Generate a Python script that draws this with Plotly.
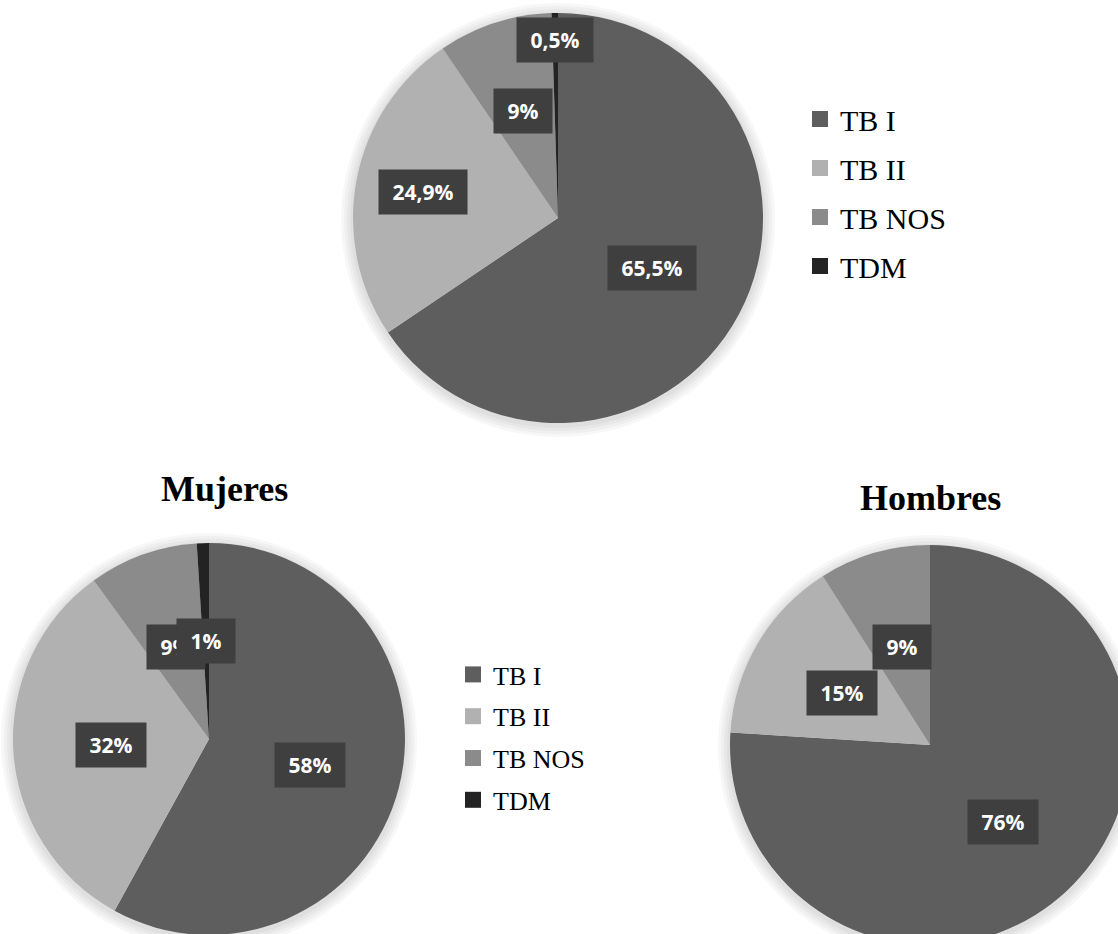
import math
import plotly.graph_objects as go

# ---- data ---------------------------------------------------------------
categories = ["TB I", "TB II", "TB NOS", "TDM"]
total_pct = [65.5, 24.9, 9, 0.5]
mujeres_pct = [58, 32, 9, 1]
hombres_pct = [76, 15, 9, 0]
titles = ["", "Mujeres", "Hombres"]

# ---- style --------------------------------------------------------------
slice_colors = ["#5e5e5e", "#b1b1b1", "#8b8b8b", "#232323"]
W, H = 1160, 975

# pie geometry in pixels: centre x, centre y, radius
geom = [(558, 218, 205), (209, 739, 196), (930, 745, 200)]
# radial position of each data label, as a fraction of the radius
label_radius = [
    [0.52, 0.67, 0.55, 0.87],
    [0.53, 0.50, 0.50, 0.50],
    [0.53, 0.51, 0.51, 0.50],
]
title_pos = [None, (224, 489), (930, 498)]

series = [total_pct, mujeres_pct, hombres_pct]


def domain(cx, cy, r):
    return dict(x=[(cx - r) / W, (cx + r) / W],
                y=[1 - (cy + r) / H, 1 - (cy - r) / H])


def fmt(v):
    s = f"{v:g}".replace(".", ",")
    return f"{s}%"


fig = go.Figure()

# soft glow behind each pie
for cx, cy, r in geom:
    for k in range(4, 0, -1):
        fig.add_trace(go.Pie(
            values=[1], labels=["_"], marker=dict(colors=["rgba(0,0,0,0.03)"]),
            textinfo="none", hoverinfo="skip", showlegend=False, sort=False,
            domain=domain(cx, cy + 2, r + 3 * k),
        ))

# the three pies
for (cx, cy, r), vals in zip(geom, series):
    fig.add_trace(go.Pie(
        values=vals, labels=categories, marker=dict(colors=slice_colors),
        sort=False, direction="clockwise", rotation=0,
        textinfo="none", showlegend=False,
        domain=domain(cx, cy, r),
    ))

# legend entries (two legends: one for the total pie, one for the pair below)
for leg in ["legend", "legend2"]:
    for i, (cat, col) in enumerate(zip(categories, slice_colors)):
        fig.add_trace(go.Scatter(
            x=[None], y=[None], mode="markers", name=cat,
            marker=dict(symbol="square", size=16, color=col),
            legend=leg, legendgroup=f"{leg}_{i}", hoverinfo="skip",
        ))

# data labels placed at each slice's mid-angle
annotations = []
for (cx, cy, r), vals, fr in zip(geom, series, label_radius):
    total = sum(vals)
    cum = 0.0
    for v, f in zip(vals, fr):
        start = cum
        cum += v
        if v <= 0:
            continue
        mid = (start + cum) / 2 / total * 2 * math.pi
        px = cx + f * r * math.sin(mid)
        py = cy - f * r * math.cos(mid)
        annotations.append(dict(
            x=px / W, y=1 - py / H, xref="paper", yref="paper",
            xanchor="center", yanchor="middle", showarrow=False,
            text="\u00a0<b>" + fmt(v) + "</b>\u00a0", borderpad=8,
            bgcolor="#3f3f3f",
            font=dict(family="Open Sans", size=21, color="white"),
        ))

for t, pos in zip(titles, title_pos):
    if pos is None:
        continue
    annotations.append(dict(
        x=pos[0] / W, y=1 - pos[1] / H, xref="paper", yref="paper",
        xanchor="center", yanchor="middle", showarrow=False,
        text=f"<b>{t}</b>",
        font=dict(family="Liberation Serif", size=36, color="black"),
    ))

fig.update_layout(
    width=W, height=H,
    margin=dict(l=0, r=0, t=0, b=0),
    paper_bgcolor="white", plot_bgcolor="white",
    xaxis=dict(visible=False), yaxis=dict(visible=False),
    annotations=annotations,
    legend=dict(x=800 / W, y=1 - 93 / H, xanchor="left", yanchor="top",
                font=dict(family="Liberation Serif", size=30, color="black"),
                tracegroupgap=7, bgcolor="rgba(0,0,0,0)"),
    legend2=dict(x=453 / W, y=1 - 651 / H, xanchor="left", yanchor="top",
                 font=dict(family="Liberation Serif", size=26, color="black"),
                 tracegroupgap=5, bgcolor="rgba(0,0,0,0)"),
)

fig.write_html(
    "out.html",
    config={"displayModeBar": False},
    post_script="document.documentElement.style.overflow='hidden';"
                "document.body.style.overflow='hidden';",
)
